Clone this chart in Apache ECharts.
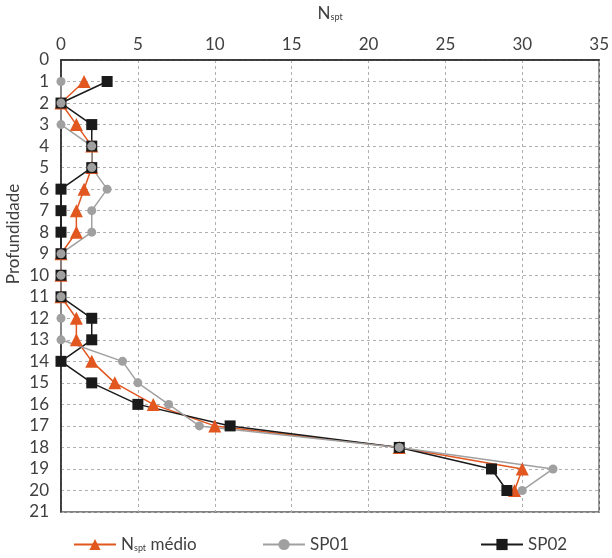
<!DOCTYPE html>
<html>
<head>
<meta charset="utf-8">
<script src="https://cdn.jsdelivr.net/npm/echarts@6/dist/echarts.min.js"></script>
<style>
	html, body { margin: 0; padding: 0; background: #fff; }
	#chart { width: 612px; height: 558px; }
</style>
</head>
<body>
<div id="chart"></div>
<script>
// profundidade (m)
var depths = [1, 2, 3, 4, 5, 6, 7, 8, 9, 10, 11, 12, 13, 14, 15, 16, 17, 18, 19, 20];
// valores
var nsptMedio = [1.5, 0, 1, 2, 2, 1.5, 1, 1, 0, 0, 0, 1, 1, 2, 3.5, 6, 10, 22, 30, 29.5];
var sp01 = [0, 0, 0, 2, 2, 3, 2, 2, 0, 0, 0, 0, 0, 4, 5, 7, 9, 22, 32, 30];
var sp02 = [3, 0, 2, 2, 2, 0, 0, 0, 0, 0, 0, 2, 2, 0, 2, 5, 11, 22, 28, 29];

var fonte = 'Lato';

function pares(vals) {
	var out = [];
	for (var i = 0; i < vals.length; i++) {
		out.push([vals[i], depths[i]]);
	}
	return out;
}

function perfil() {
	var myChart = echarts.init(document.getElementById('chart'));
	var legendText = {
		fontFamily: fonte,
		fontSize: 17,
		color: '#404040',
		rich: {
			a: { fontFamily: fonte, fontSize: 17, color: '#404040' },
			b: { fontFamily: fonte, fontSize: 9, color: '#404040', verticalAlign: 'bottom', padding: [8, 0, 0, 0] }
		}
	};
	var option = {
		animation: false,
		grid: {
			left: 61,
			right: 8,
			top: 50,
			bottom: 46,
			show: true,
			borderColor: '#595959',
			borderWidth: 1.5
		},
		legend: [{
			left: 73,
			top: 536,
			padding: 0,
			itemWidth: 42,
			itemHeight: 14,
			itemGap: 6,
			textStyle: legendText,
			data: ['Nspt médio'],
			formatter: function() {
				return '{a|N}{b|spt}{a| médio}';
			}
		}, {
			left: 262,
			top: 536,
			padding: 0,
			itemWidth: 42,
			itemHeight: 14,
			textStyle: legendText,
			data: ['SP01']
		}, {
			left: 480,
			top: 536,
			padding: 0,
			itemWidth: 42,
			itemHeight: 14,
			textStyle: legendText,
			data: ['SP02']
		}],
		graphic: [{
			type: 'text',
			x: 14,
			y: 234,
			rotation: Math.PI / 2,
			style: {
				text: 'Profundidade',
				fontFamily: fonte,
				fontSize: 17,
				fill: '#404040',
				align: 'center',
				verticalAlign: 'middle'
			}
		}],
		xAxis: {
			type: 'value',
			position: 'top',
			min: 0,
			max: 35,
			interval: 5,
			name: '{a|N}{b|spt}',
			nameLocation: 'middle',
			nameGap: 38,
			nameTextStyle: {
				rich: {
					a: { fontFamily: fonte, fontSize: 17, color: '#404040' },
					b: { fontFamily: fonte, fontSize: 9, color: '#404040', padding: [8, 0, 0, 0] }
				}
			},
			axisLine: { show: true, lineStyle: { color: '#262626', width: 1.5 } },
			axisTick: { show: false },
			axisLabel: { fontFamily: fonte, fontSize: 17, color: '#404040', margin: 7 },
			splitLine: { show: true, lineStyle: { color: '#b0b0b0', type: [3, 3] } }
		},
		yAxis: {
			type: 'value',
			inverse: true,
			min: 0,
			max: 21,
			interval: 1,
			axisLine: { show: true, lineStyle: { color: '#262626', width: 1.5 } },
			axisTick: { show: false },
			axisLabel: { fontFamily: fonte, fontSize: 17, color: '#404040', margin: 12 },
			splitLine: { show: true, lineStyle: { color: '#b0b0b0', type: [3, 3] } }
		},
		series: [{
			name: 'Nspt médio',
			type: 'line',
			data: pares(nsptMedio),
			symbol: 'triangle',
			symbolSize: 13,
			itemStyle: { color: '#e2561f' },
			lineStyle: { color: '#e2561f', width: 1.5 }
		}, {
			name: 'SP02',
			type: 'line',
			data: pares(sp02),
			symbol: 'rect',
			symbolSize: 11,
			itemStyle: { color: '#1a1a1a' },
			lineStyle: { color: '#1a1a1a', width: 1.5 }
		}, {
			name: 'SP01',
			type: 'line',
			data: pares(sp01),
			symbol: 'circle',
			symbolSize: 9,
			itemStyle: { color: '#a0a0a0' },
			lineStyle: { color: '#a0a0a0', width: 1.5 }
		}]
	};
	myChart.setOption(option);
}
perfil();
</script>
</body>
</html>
